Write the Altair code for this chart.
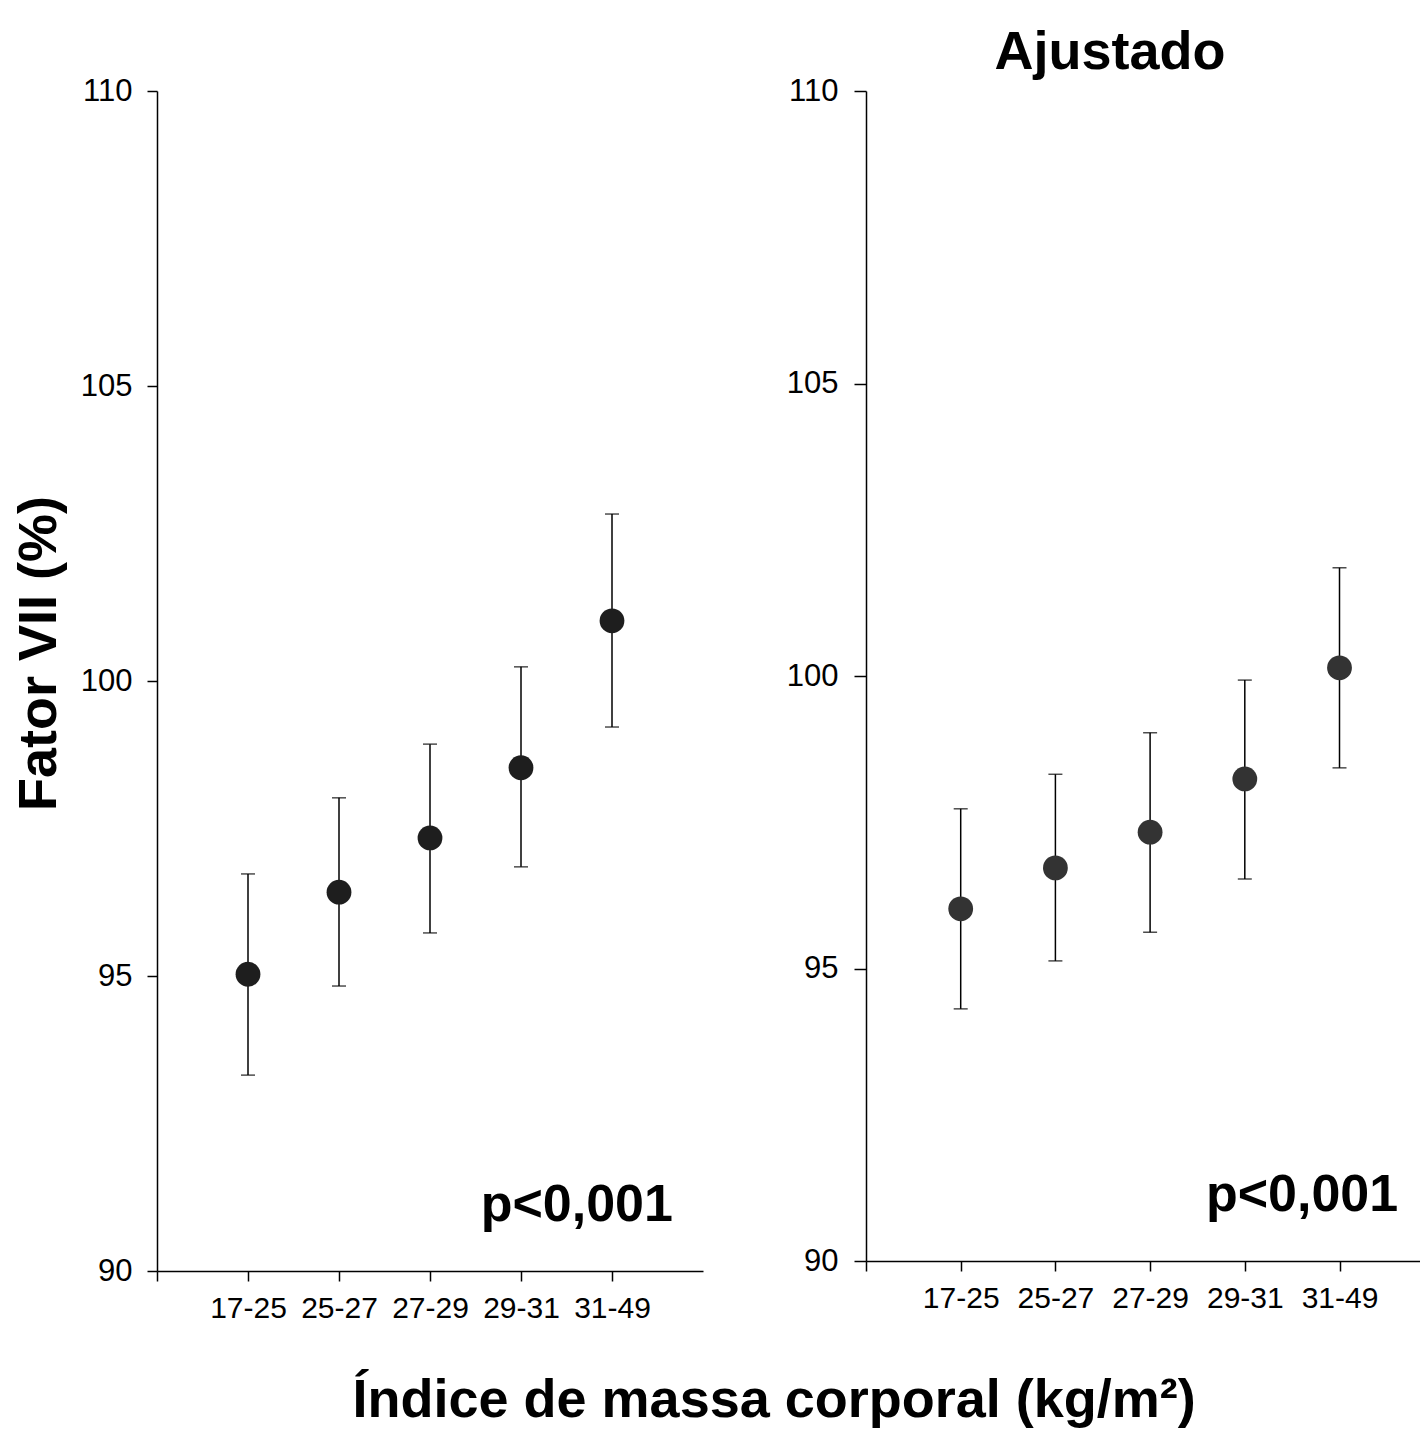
import altair as alt
import pandas as pd

# BMI classes (kg/m2) and their positions along the x axis
categories = ["17-25", "25-27", "27-29", "29-31", "31-49"]
positions = [1, 2, 3, 4, 5]

# Factor VII (%) — crude means with confidence limits
crude_mean = [95.03, 96.42, 97.34, 98.53, 101.02]
crude_low = [93.32, 94.83, 95.73, 96.85, 99.22]
crude_high = [96.73, 98.02, 98.93, 100.24, 102.83]

# Factor VII (%) — adjusted means with confidence limits
adj_mean = [96.02, 96.72, 97.33, 98.24, 100.14]
adj_low = [94.31, 95.13, 95.62, 96.53, 98.43]
adj_high = [97.73, 98.32, 99.03, 99.93, 101.85]

y_ticks = [90, 95, 100, 105, 110]
p_label = "p<0,001"

FONT = "Liberation Sans"
BIG = 54

label_lookup = "[" + ", ".join(["''"] + [f"'{c}'" for c in categories]) + "][datum.value]"


def panel(mean, low, high, width, height, xmax, dot_color, title, title_dx,
          y_title, p_pos, y_tick, y_pad):
    df = pd.DataFrame({"pos": positions, "cat": categories,
                       "mean": mean, "low": low, "high": high})
    x = alt.X("pos:Q",
              scale=alt.Scale(domain=[0, xmax], nice=False, zero=False),
              axis=alt.Axis(values=[0, 1, 2, 3, 4, 5], labelExpr=label_lookup,
                            title=None, tickSize=10, labelPadding=12,
                            labelFontSize=30))
    y_axis_kwargs = dict(values=y_ticks, format="d", tickSize=y_tick,
                         labelPadding=y_pad, labelFontSize=31)
    if y_title:
        y_axis_kwargs.update(title=y_title, titleFontSize=BIG,
                             titleFontWeight="bold", titlePadding=14,
                             titleY=562, titleFont=FONT, titleColor="black")
    else:
        y_axis_kwargs.update(title=None)
    y_scale = alt.Scale(domain=[90, 110], nice=False, zero=False)

    base = alt.Chart(df)
    bars = base.mark_rule(color="black", strokeWidth=1.5).encode(
        x=x, y=alt.Y("low:Q", scale=y_scale, axis=alt.Axis(**y_axis_kwargs)),
        y2="high:Q")
    cap_lo = base.mark_tick(orient="horizontal", size=14, thickness=1.5,
                            color="black").encode(x=x, y=alt.Y("low:Q", scale=y_scale))
    cap_hi = base.mark_tick(orient="horizontal", size=14, thickness=1.5,
                            color="black").encode(x=x, y=alt.Y("high:Q", scale=y_scale))
    dots = base.mark_circle(size=615, opacity=1, color=dot_color).encode(
        x=x, y=alt.Y("mean:Q", scale=y_scale))
    ptxt = alt.Chart(pd.DataFrame({"t": [p_label]})).mark_text(
        font=FONT, fontSize=52, fontWeight="bold", align="right",
        baseline="alphabetic", color="black").encode(
        x=alt.datum(p_pos[0], type="quantitative"),
        y=alt.datum(p_pos[1], type="quantitative"),
        text="t:N")
    return alt.layer(bars, cap_lo, cap_hi, dots, ptxt).properties(
        width=width, height=height,
        title=alt.TitleParams(title, fontSize=BIG, fontWeight="bold", font=FONT,
                              color="black", anchor="middle", offset=-5,
                              dx=title_dx))


left = panel(crude_mean, crude_low, crude_high, 546, 1180, 6.0, "#1e1e1e",
             " ", 0, "Fator VII (%)", (5.67, 90.85), 10, 15)
right = panel(adj_mean, adj_low, adj_high, 554, 1170, 5.85, "#333333",
              "Ajustado", -33, None, (5.62, 90.85), 12, 16)

chart = alt.hconcat(left, right, spacing=83).properties(
    title=alt.TitleParams("Índice de massa corporal (kg/m²)", orient="bottom",
                          fontSize=BIG, fontWeight="bold", font=FONT,
                          color="black", anchor="middle", dx=58, offset=51),
    padding={"left": 12, "top": 26, "right": 0, "bottom": 0},
    background="white",
).configure_view(stroke=None).configure_axis(
    grid=False, domainColor="black", domainWidth=1.5, tickColor="black",
    tickWidth=1.5, labelColor="black", labelFont=FONT
)

chart.save("out.html", embed_options={"renderer": "svg", "actions": False})
